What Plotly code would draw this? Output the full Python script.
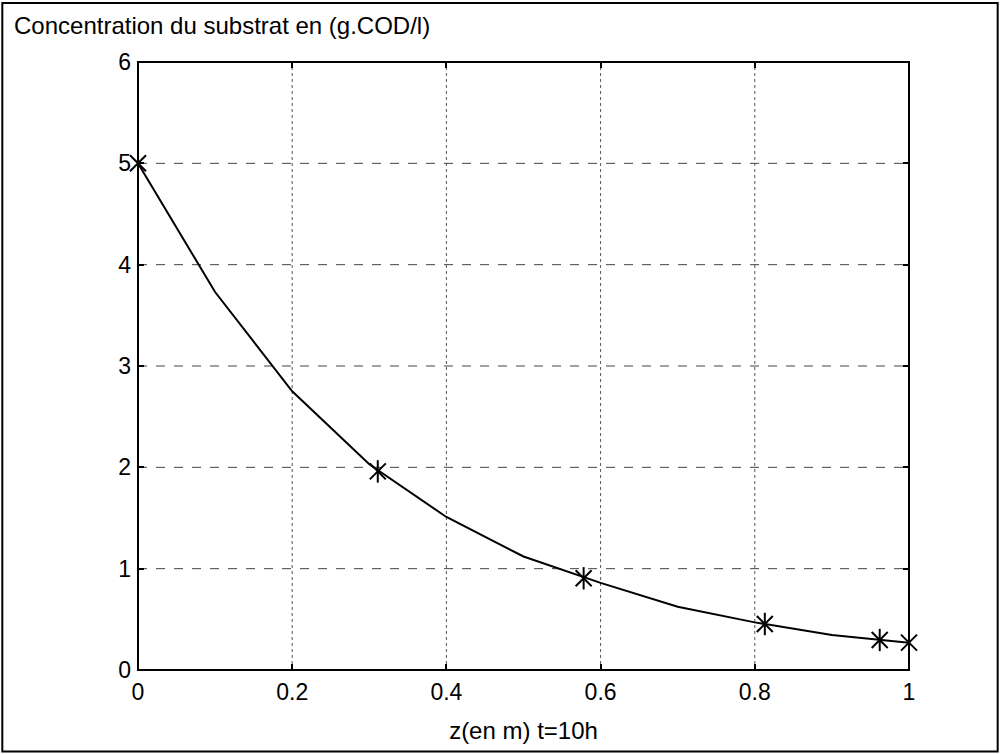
import plotly.graph_objects as go

# data
z_line = [0.0, 0.1, 0.2, 0.3, 0.4, 0.5, 0.6, 0.7, 0.8, 0.9, 1.0]
s_line = [5.0, 3.73, 2.75, 2.03, 1.51, 1.12, 0.86, 0.625, 0.47, 0.345, 0.27]
z_mark = [0.0, 0.311, 0.578, 0.813, 0.962, 1.0]
s_mark = [5.0, 1.96, 0.905, 0.454, 0.296, 0.27]
x_ticks = [0, 0.2, 0.4, 0.6, 0.8, 1]
x_tick_text = ["0", "0.2", "0.4", "0.6", "0.8", "1"]
y_ticks = [0, 1, 2, 3, 4, 5, 6]
y_tick_text = ["0", "1", "2", "3", "4", "5", "6"]
title_text = "Concentration du substrat en (g.COD/l)"
xlabel_text = "z(en m) t=10h"

FONT = "Liberation Sans, Arial, sans-serif"

fig = go.Figure()
fig.add_trace(go.Scatter(x=z_line, y=s_line, mode="lines",
                         line=dict(color="black", width=2), showlegend=False,
                         cliponaxis=False))
for sym in ["line-ns-open", "x-thin-open"]:
    fig.add_trace(go.Scatter(x=z_mark, y=s_mark, mode="markers",
                             marker=dict(symbol=sym, size=16, color="black",
                                         line=dict(color="black", width=2)),
                             showlegend=False, cliponaxis=False))

shapes = []
# grid lines (MATLAB-like dotted)
for v in x_ticks[1:-1]:
    shapes.append(dict(type="line", xref="x", yref="y", x0=v, x1=v, y0=0, y1=6,
                       line=dict(color="#555555", width=1, dash="dot"), layer="below"))
for v in y_ticks[1:-1]:
    shapes.append(dict(type="line", xref="x", yref="y", x0=0, x1=1, y0=v, y1=v,
                       line=dict(color="#444444", width=1, dash="dash"), layer="below"))
# outer frame of the figure
shapes.append(dict(type="rect", xref="paper", yref="paper", x0=-138/771+0.003, x1=1+91/771-0.003,
                   y0=-84/608+0.004, y1=1+62/608-0.005,
                   line=dict(color="black", width=2)))
# box around axes
shapes.append(dict(type="rect", xref="paper", yref="paper", x0=0, x1=1, y0=0, y1=1,
                   line=dict(color="black", width=2)))

fig.update_layout(
    width=1000, height=754,
    margin=dict(l=138, r=91, t=62, b=84),
    paper_bgcolor="white", plot_bgcolor="white",
    font=dict(family=FONT, size=23, color="black"),
    shapes=shapes,
    xaxis=dict(range=[0, 1], tickvals=x_ticks, ticktext=x_tick_text,
               ticks="inside", ticklen=6, tickwidth=2, tickcolor="black",
               showgrid=False, zeroline=False, showline=False, mirror="ticks",
               ticklabelstandoff=6,
               title=dict(text=xlabel_text, standoff=18, font=dict(size=24)),
               tickfont=dict(size=23)),
    yaxis=dict(range=[0, 6], tickvals=y_ticks, ticktext=y_tick_text,
               ticks="inside", ticklen=6, tickwidth=2, tickcolor="black",
               showgrid=False, zeroline=False, showline=False, mirror="ticks",
               ticklabelstandoff=6,
               tickfont=dict(size=23)),
    annotations=[dict(text=title_text, xref="paper", yref="paper",
                      x=-138/771 + 12/771, y=1 + 37/608, xanchor="left", yanchor="middle",
                      showarrow=False, font=dict(size=24))],
)

fig.write_html("out.html")
